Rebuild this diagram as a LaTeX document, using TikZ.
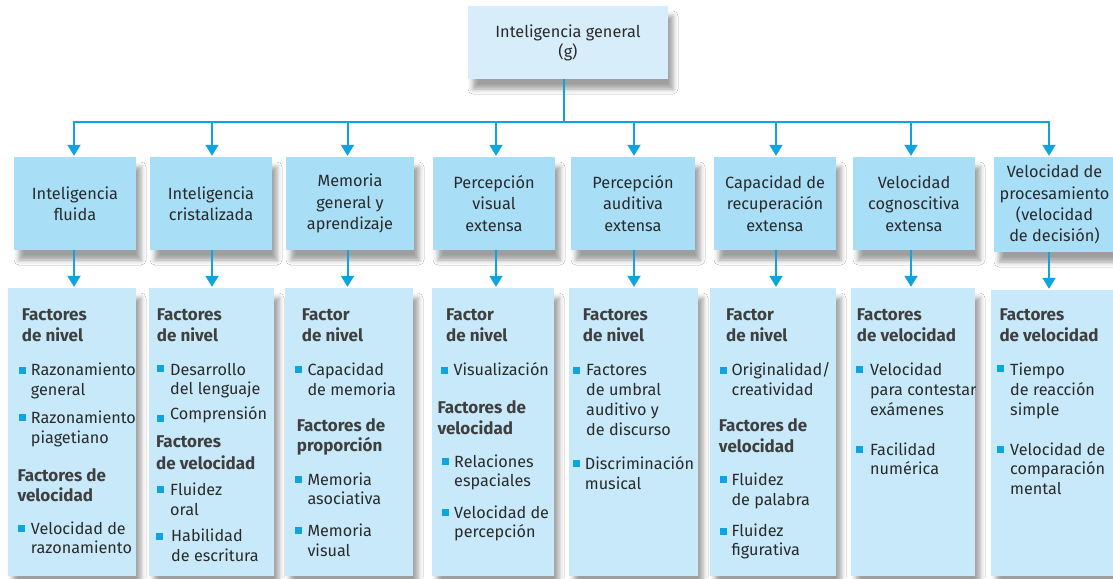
\documentclass[tikz,border=0pt]{standalone}
\usepackage{fontspec}
\setmainfont{Fira Sans}
\usetikzlibrary{arrows.meta,shadows.blur}
\definecolor{lncol}{HTML}{0FA3E0}
\definecolor{topcol}{HTML}{D7EEFA}
\definecolor{midcol}{HTML}{A8DEF6}
\definecolor{botcol}{HTML}{C7E9F9}
\definecolor{txcol}{HTML}{2A2A2A}
\newcommand\Hd[4]{\node[hd] (#1) at (#2,#3) {#4};}
\newcommand\Tx[4]{\node[tx] (#1) at (#2,#3) {#4};}
\newcommand\Bu[3]{\node[bul] (#1) at (#2,#3) {};}
\begin{document}
\begin{tikzpicture}[x=1pt,y=-1pt,
  bx/.style={rectangle, inner sep=0pt, blur shadow={shadow xshift=5pt, shadow yshift=-10pt, shadow blur radius=5pt, shadow opacity=38}},
  topbox/.style={bx, fill=topcol, minimum width=200pt, minimum height=73pt, align=center, font=\fontsize{16.3}{20}\selectfont, text=txcol},
  midbox/.style={bx, fill=midcol, minimum height=93pt, align=center, font=\fontsize{16.3}{21.3}\selectfont, text=txcol},
  botbox/.style={bx, fill=botcol, minimum height=288pt},
  hd/.style={anchor=base west, inner sep=0pt, font=\fontsize{17}{19}\selectfont\bfseries, text=txcol!90},
  tx/.style={anchor=base west, inner sep=0pt, font=\fontsize{16.2}{19}\selectfont, text=txcol},
  bul/.style={fill=lncol, inner sep=0pt, minimum size=7pt},
  ln/.style={draw=lncol, line width=2pt},
  arr/.style={ln, -{Triangle[width=13pt,length=11pt]}, shorten >=1pt}]
\useasboundingbox (0,0) rectangle (1113,578);
\fill[white] (0,0) rectangle (1113,578);

% top box
\node[topbox] (g) at (568,42.5) {Inteligencia general\\(g)};

% level 2 boxes
\node[midbox, minimum width=122pt] (b1) at (75,203.5) {Inteligencia\\fluida};
\node[midbox, minimum width=122pt] (b2) at (211,203.5) {Inteligencia\\cristalizada};
\node[midbox, minimum width=128pt] (b3) at (350,203.5) {Memoria\\general y\\aprendizaje};
\node[midbox, minimum width=122pt] (b4) at (494,203.5) {Percepción\\visual\\extensa};
\node[midbox, minimum width=124pt] (b5) at (633,203.5) {Percepción\\auditiva\\extensa};
\node[midbox, minimum width=122pt] (b6) at (775,203.5) {Capacidad de\\recuperación\\extensa};
\node[midbox, minimum width=122pt] (b7) at (914,203.5) {Velocidad\\cognoscitiva\\extensa};
\node[midbox, minimum width=121pt, minimum height=95pt] (b8) at (1054.5,204.5) {Velocidad de\\procesamiento\\(velocidad\\de decisión)};

% level 3 boxes
\node[botbox, minimum width=128pt] (c1) at (72,432) {};
\node[botbox, minimum width=125pt] (c2) at (211.5,432) {};
\node[botbox, minimum width=128pt] (c3) at (349,432) {};
\node[botbox, minimum width=122pt] (c4) at (493,432) {};
\node[botbox, minimum width=129pt] (c5) at (633.5,432) {};
\node[botbox, minimum width=126pt] (c6) at (773,432) {};
\node[botbox, minimum width=124pt] (c7) at (913,432) {};
\node[botbox, minimum width=124pt, minimum height=286pt] (c8) at (1053,433) {};

% connectors
\coordinate (j0) at (564,122);
\coordinate (j1) at (74,122);
\coordinate (j2) at (212,122);
\coordinate (j3) at (347.5,122);
\coordinate (j4) at (496,122);
\coordinate (j5) at (634,122);
\coordinate (j6) at (776,122);
\coordinate (j7) at (911,122);
\coordinate (j8) at (1049,122);
\draw[ln] (g.south -| j0) -- (j0);
\draw[ln, line cap=rect] (j1) -- (j8);
\foreach \i in {1,...,8}{
  \draw[arr] (j\i) -- (j\i |- b\i.north);
  \draw[arr] (j\i |- b\i.south) -- (j\i |- c\i.north);
}

% box 1
\Hd{h1a}{21.7}{320.7}{Factores}
\Hd{h1b}{21.7}{341.7}{de nivel}
\Bu{p1a}{22.5}{370.5}
\Tx{t1a}{30.7}{375.7}{Razonamiento}
\Tx{t1b}{30.7}{395}{general}
\Bu{p1b}{22.5}{417.5}
\Tx{t1c}{30.7}{423}{Razonamiento}
\Tx{t1d}{30.7}{443}{piagetiano}
\Hd{h1c}{17.3}{481}{Factores de}
\Hd{h1d}{17.3}{501.7}{velocidad}
\Bu{p1c}{21.5}{528.5}
\Tx{t1e}{30.7}{534}{Velocidad de}
\Tx{t1f}{30.7}{553}{razonamiento}

% box 2
\Hd{h2a}{156.7}{320.7}{Factores}
\Hd{h2b}{156.7}{341.7}{de nivel}
\Bu{p2a}{160.5}{368.5}
\Tx{t2a}{170}{375}{Desarrollo}
\Tx{t2b}{170}{394.3}{del lenguaje}
\Bu{p2b}{160.5}{418}
\Tx{t2c}{170}{419.3}{Comprensión}
\Hd{h2c}{156}{447.7}{Factores}
\Hd{h2d}{156}{469}{de velocidad}
\Bu{p2c}{160.5}{489.5}
\Tx{t2d}{170}{495}{Fluidez}
\Tx{t2e}{170}{515.3}{oral}
\Bu{p2d}{159}{536}
\Tx{t2f}{171}{541.7}{Habilidad}
\Tx{t2g}{171}{561.7}{de escritura}

% box 3
\Hd{h3a}{301.7}{320.7}{Factor}
\Hd{h3b}{301.7}{341.7}{de nivel}
\Bu{p3a}{298}{369}
\Tx{t3a}{307.3}{375.7}{Capacidad}
\Tx{t3b}{307.3}{395}{de memoria}
\Hd{h3c}{296.7}{431.7}{Factores de}
\Hd{h3d}{296.7}{451.5}{proporción}
\Bu{p3b}{298}{479.5}
\Tx{t3c}{307.3}{485}{Memoria}
\Tx{t3d}{307.3}{504.3}{asociativa}
\Bu{p3c}{298}{530.5}
\Tx{t3e}{307.3}{536}{Memoria}
\Tx{t3f}{307.3}{556}{visual}

% box 4
\Hd{h4a}{446}{320.7}{Factor}
\Hd{h4b}{446}{341.7}{de nivel}
\Bu{p4a}{444.5}{370.3}
\Tx{t4a}{453.3}{375.7}{Visualización}
\Hd{h4c}{437.3}{413.3}{Factores de}
\Hd{h4d}{437.3}{434}{velocidad}
\Bu{p4b}{445.5}{461.8}
\Tx{t4b}{454}{467}{Relaciones}
\Tx{t4c}{454}{486.7}{espaciales}
\Bu{p4c}{445.5}{512.3}
\Tx{t4d}{454}{518.3}{Velocidad de}
\Tx{t4e}{454}{537.7}{percepción}

% box 5
\Hd{h5a}{582.7}{320.7}{Factores}
\Hd{h5b}{582.7}{341.7}{de nivel}
\Bu{p5a}{576.7}{370}
\Tx{t5a}{586}{375.7}{Factores}
\Tx{t5b}{586}{395.7}{de umbral}
\Tx{t5c}{586}{415.3}{auditivo y}
\Tx{t5d}{586}{435.3}{de discurso}
\Bu{p5b}{576.5}{463}
\Tx{t5e}{584.7}{469.3}{Discriminación}
\Tx{t5f}{584.7}{489}{musical}

% box 6
\Hd{h6a}{726}{320.7}{Factor}
\Hd{h6b}{726}{341.7}{de nivel}
\Bu{p6a}{723}{370}
\Tx{t6a}{731.3}{375.7}{Originalidad/}
\Tx{t6b}{731.3}{395.7}{creatividad}
\Hd{h6c}{718.7}{431.7}{Factores de}
\Hd{h6d}{718.7}{452.7}{velocidad}
\Bu{p6b}{723}{479.5}
\Tx{t6c}{731.3}{485}{Fluidez}
\Tx{t6d}{731.3}{505.3}{de palabra}
\Bu{p6c}{723}{531}
\Tx{t6e}{731.3}{536}{Fluidez}
\Tx{t6f}{731.3}{555.3}{figurativa}

% box 7
\Hd{h7a}{856.7}{320.7}{Factores}
\Hd{h7b}{856.7}{341.7}{de velocidad}
\Bu{p7a}{859.5}{369}
\Tx{t7a}{870}{375.7}{Velocidad}
\Tx{t7b}{870}{395.7}{para contestar}
\Tx{t7c}{870}{415}{exámenes}
\Bu{p7b}{859.5}{449}
\Tx{t7d}{870}{455}{Facilidad}
\Tx{t7e}{870}{474.3}{numérica}

% box 8
\Hd{h8a}{999.3}{320.7}{Factores}
\Hd{h8b}{999.3}{341.7}{de velocidad}
\Bu{p8a}{1000}{368}
\Tx{t8a}{1010}{375.7}{Tiempo}
\Tx{t8b}{1010}{395.7}{de reacción}
\Tx{t8c}{1010}{415}{simple}
\Bu{p8b}{1000}{449}
\Tx{t8d}{1010}{455}{Velocidad de}
\Tx{t8e}{1010}{474.7}{comparación}
\Tx{t8f}{1010}{494}{mental}
\end{tikzpicture}
\end{document}
